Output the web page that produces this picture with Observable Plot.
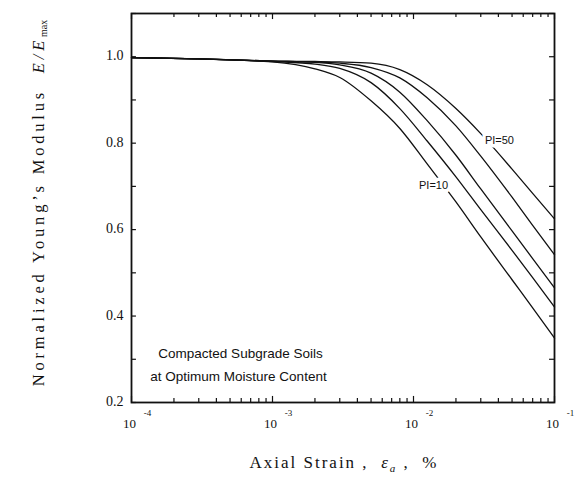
<!DOCTYPE html>
<html>
<head>
<meta charset="utf-8">
<script src="https://cdn.jsdelivr.net/npm/d3@7"></script>
<script src="https://cdn.jsdelivr.net/npm/@observablehq/plot@0.6"></script>
<style>
  body { margin: 0; background: #fff; }
  #chart svg { display: block; }
</style>
</head>
<body>
<div id="chart"></div>
<script>
// Axial strain (%) at which each curve is sampled
const strain = [0.0001, 0.0003, 0.001, 0.002, 0.003, 0.005, 0.008, 0.0125, 0.02, 0.03, 0.05, 0.07, 0.1];

// Normalized Young's modulus E/Emax for each plasticity index
const pi10 = [0.998, 0.995, 0.988, 0.972, 0.952, 0.898, 0.834, 0.752, 0.664, 0.583, 0.484, 0.419, 0.349];
const pi20 = [0.998, 0.995, 0.989, 0.983, 0.973, 0.940, 0.880, 0.805, 0.722, 0.646, 0.552, 0.489, 0.421];
const pi30 = [0.998, 0.995, 0.990, 0.987, 0.981, 0.962, 0.918, 0.852, 0.772, 0.694, 0.597, 0.533, 0.465];
const pi40 = [0.998, 0.995, 0.990, 0.988, 0.985, 0.975, 0.951, 0.905, 0.840, 0.770, 0.675, 0.610, 0.542];
const pi50 = [0.998, 0.995, 0.990, 0.989, 0.988, 0.985, 0.970, 0.935, 0.880, 0.822, 0.740, 0.684, 0.625];

const plasticityIndex = [10, 20, 30, 40, 50];
const seriesValues = [pi10, pi20, pi30, pi40, pi50];

// Curve labels (placed on their curves)
const labelText = ["PI=10", "PI=50"];
const labelStrain = [0.01387, 0.0407];
const labelE = [0.702, 0.807];

// Axis ticks
const decades = [1e-4, 1e-3, 1e-2, 1e-1];
const minorX = decades.slice(0, 3).flatMap(d => [2, 3, 4, 5, 6, 7, 8, 9].map(k => k * d));
const yMajor = [0.2, 0.4, 0.6, 0.8, 1.0];
const yMinor = [0.3, 0.5, 0.7, 0.9, 1.1];

// Note lines
const noteText = ["Compacted Subgrade Soils", "at Optimum Moisture Content"];
const noteStrain = [1.55e-4, 1.36e-4];
const noteE = [0.302, 0.249];

const rows = plasticityIndex.flatMap((pi, j) =>
  strain.map((s, i) => ({ strain: s, E: seriesValues[j][i], pi }))
);
const labels = labelText.map((t, i) => ({ text: t, strain: labelStrain[i], E: labelE[i] }));
const notes = noteText.map((t, i) => ({ text: t, strain: noteStrain[i], E: noteE[i] }));

const X0 = 1e-4, X1 = 1e-1, Y0 = 0.2, Y1 = 1.1;
const tickMajorY = 0.014, tickMinorY = 0.009;   // tick lengths on the E axis
const tickFactor = Math.pow(10, 0.035);         // tick length on the log strain axis

const serif = "'Liberation Serif', 'DejaVu Serif', serif";
const sans = "'Liberation Sans', 'DejaVu Sans', sans-serif";

const chart = Plot.plot({
  width: 581,
  height: 488,
  marginLeft: 131,
  marginRight: 27,
  marginTop: 13,
  marginBottom: 86,
  x: { type: "log", domain: [X0, X1], axis: null },
  y: { domain: [Y0, Y1], axis: null },
  marks: [
    // inward ticks, bottom and top
    Plot.ruleX(decades, { x: d => d, y1: Y0, y2: Y0 + tickMajorY, stroke: "#111", strokeWidth: 1.2 }),
    Plot.ruleX(minorX, { x: d => d, y1: Y0, y2: Y0 + tickMinorY, stroke: "#111", strokeWidth: 1.2 }),
    Plot.ruleX(decades, { x: d => d, y1: Y1, y2: Y1 - tickMajorY, stroke: "#111", strokeWidth: 1.2 }),
    Plot.ruleX(minorX, { x: d => d, y1: Y1, y2: Y1 - tickMinorY, stroke: "#111", strokeWidth: 1.2 }),
    // inward ticks, left and right
    Plot.ruleY(yMajor.concat(yMinor), { y: d => d, x1: X0, x2: X0 * tickFactor, stroke: "#111", strokeWidth: 1.2 }),
    Plot.ruleY(yMajor.concat(yMinor), { y: d => d, x1: X1, x2: X1 / tickFactor, stroke: "#111", strokeWidth: 1.2 }),
    Plot.frame({ stroke: "#111", strokeWidth: 1.8 }),
    // curves
    Plot.line(rows, {
      x: "strain", y: "E", z: "pi",
      curve: "monotone-x", stroke: "#111", strokeWidth: 1.3
    }),
    // curve labels with a white halo that breaks the line beneath
    Plot.text(labels, {
      x: "strain", y: "E", text: "text",
      fill: "#111", stroke: "white", strokeWidth: 7,
      fontSize: 11, fontFamily: sans
    }),
    // y tick labels
    Plot.text(yMajor, {
      x: X0, y: d => d, text: d => d.toFixed(1),
      textAnchor: "end", dx: -8, dy: -1, fontSize: 14, fontFamily: serif, fill: "#111"
    }),
    // x tick labels: base and exponent
    Plot.text(decades, {
      x: d => d, y: Y0, text: () => "10",
      dx: -2, dy: 21, fontSize: 13, fontFamily: serif, fill: "#111"
    }),
    Plot.text(decades, {
      x: d => d, y: Y0, text: d => String(Math.round(Math.log10(d))),
      dx: 16, dy: 11, fontSize: 9, fontFamily: serif, fill: "#111"
    }),
    // note
    Plot.text(notes, {
      x: "strain", y: "E", text: "text",
      textAnchor: "start", lineAnchor: "bottom",
      fontSize: 13.5, fontFamily: sans, fill: "#111",
      letterSpacing: "0.3px"
    })
  ]
});

document.getElementById("chart").append(chart);

// Axis titles with italic symbols and subscripts
const svg = d3.select(chart);

const yTitle = svg.append("text")
  .attr("transform", "translate(44,203) rotate(-90)")
  .attr("text-anchor", "middle")
  .attr("font-family", serif)
  .attr("font-size", 16.5)
  .attr("letter-spacing", 3.8)
  .attr("fill", "#111");
yTitle.append("tspan").text("Normalized Young\u2019s Modulus\u00a0\u00a0");
yTitle.append("tspan").attr("font-style", "italic").text("E/E");
yTitle.append("tspan").attr("font-size", 10).attr("dy", 3).attr("letter-spacing", 0).text("max");

const xTitle = svg.append("text")
  .attr("x", 344)
  .attr("y", 468)
  .attr("text-anchor", "middle")
  .attr("font-family", serif)
  .attr("font-size", 17)
  .attr("letter-spacing", 2)
  .attr("fill", "#111");
xTitle.append("tspan").text("Axial Strain ,\u00a0\u00a0");
xTitle.append("tspan").attr("font-style", "italic").text("\u03b5");
xTitle.append("tspan").attr("font-style", "italic").attr("font-size", 11).attr("dy", 4).text("a");
xTitle.append("tspan").attr("dy", -4).text(" ,\u00a0\u00a0%");
</script>
</body>
</html>
